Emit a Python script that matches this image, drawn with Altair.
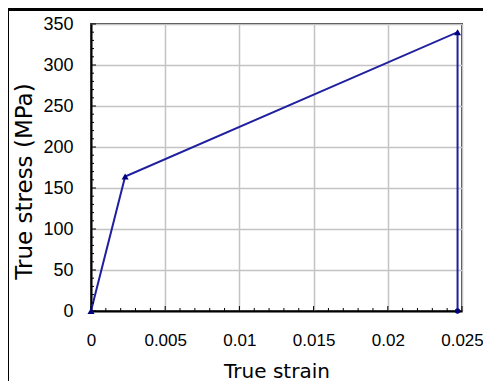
import altair as alt
import pandas as pd

# data
strain = [0.0, 0.0023, 0.0247, 0.0247]
stress = [0, 164, 340, 0]
order = [0, 1, 2, 3]

x_major = [0, 0.005, 0.01, 0.015, 0.02, 0.025]
x_minor = [0.001, 0.002, 0.003, 0.004, 0.006, 0.007, 0.008, 0.009,
           0.011, 0.012, 0.013, 0.014, 0.016, 0.017, 0.018, 0.019,
           0.021, 0.022, 0.023, 0.024]
y_major = [0, 50, 100, 150, 200, 250, 300, 350]
y_minor = [10, 20, 30, 40, 60, 70, 80, 90, 110, 120, 130, 140, 160, 170, 180, 190,
           210, 220, 230, 240, 260, 270, 280, 290, 310, 320, 330, 340]

W, H = 371, 287

df = pd.DataFrame({"strain": strain, "stress": stress, "i": order})

xs = alt.Scale(domain=[0, 0.025], nice=False, zero=False)
ys = alt.Scale(domain=[0, 350], nice=False, zero=False)

x_axis = alt.Axis(
    values=x_major, format="~g", grid=True, gridColor="#c4c4c4", gridWidth=1.5,
    ticks=False, domain=True, domainColor="black", domainWidth=2,
    labelFont="Liberation Sans", labelFontSize=17, labelColor="black",
    labelPadding=21, labelFlush=False, labelOverlap=False, labelBound=False,
    title="True strain", titleFont="DejaVu Sans", titleFontSize=20,
    titleFontWeight="normal", titleColor="black", titleBaseline="alphabetic",
    titleY=66,
)
y_axis = alt.Axis(
    values=y_major, grid=True, gridColor="#c4c4c4", gridWidth=1.5,
    ticks=False, domain=True, domainColor="black", domainWidth=2,
    labelFont="Liberation Sans", labelFontSize=18, labelColor="black",
    labelPadding=18, labelFlush=False, labelOverlap=False, labelBound=False,
    title="True stress (MPa)", titleFont="DejaVu Sans", titleFontSize=23,
    titleFontWeight="normal", titleColor="black", titleBaseline="alphabetic",
    titleX=-60, titleY=157, titleAngle=-90, titleAlign="center",
)


def X(field):
    return alt.X(field, scale=xs, axis=x_axis)


def Y(field):
    return alt.Y(field, scale=ys, axis=y_axis)


line = alt.Chart(df).mark_line(color="#1f1f9f", strokeWidth=2).encode(
    x=X("strain:Q"),
    y=Y("stress:Q"),
    order="i:Q",
)

points = alt.Chart(df).mark_point(filled=True, color="#000080", opacity=1).encode(
    x=X("strain:Q"),
    y=Y("stress:Q"),
    shape=alt.condition(alt.datum.i == 3, alt.value("circle"), alt.value("triangle-up")),
    size=alt.condition(alt.datum.i == 3, alt.value(28), alt.value(50)),
)


def xticks(vals, length):
    return alt.Chart(pd.DataFrame({"strain": vals})).mark_rule(color="black", strokeWidth=1).encode(
        x=X("strain:Q"),
        y=alt.value(H), y2=alt.value(H - length),
    )


def yticks(vals, length):
    return alt.Chart(pd.DataFrame({"stress": vals})).mark_rule(color="black", strokeWidth=1).encode(
        y=Y("stress:Q"),
        x=alt.value(0), x2=alt.value(length),
    )


one = pd.DataFrame({"a": [0]})
border_top = alt.Chart(one).mark_rule(color="black", strokeWidth=3).encode(
    x=alt.value(-84), x2=alt.value(420), y=alt.value(-14.5)
)
border_left = alt.Chart(one).mark_rule(color="black", strokeWidth=3).encode(
    x=alt.value(-83.5), y=alt.value(-16), y2=alt.value(420)
)

chart = alt.layer(
    line,
    xticks(x_major, 5), xticks(x_minor, 3),
    yticks(y_major, 5), yticks(y_minor, 3),
    points, border_top, border_left,
).properties(
    width=W, height=H,
    autosize=alt.AutoSizeParams(type="none"),
    padding={"left": 83, "top": 16, "right": 21, "bottom": 70},
    background="white",
).configure_view(stroke="#404040", strokeWidth=2)

chart.save("out.html", embed_options={"renderer": "svg", "actions": False})
